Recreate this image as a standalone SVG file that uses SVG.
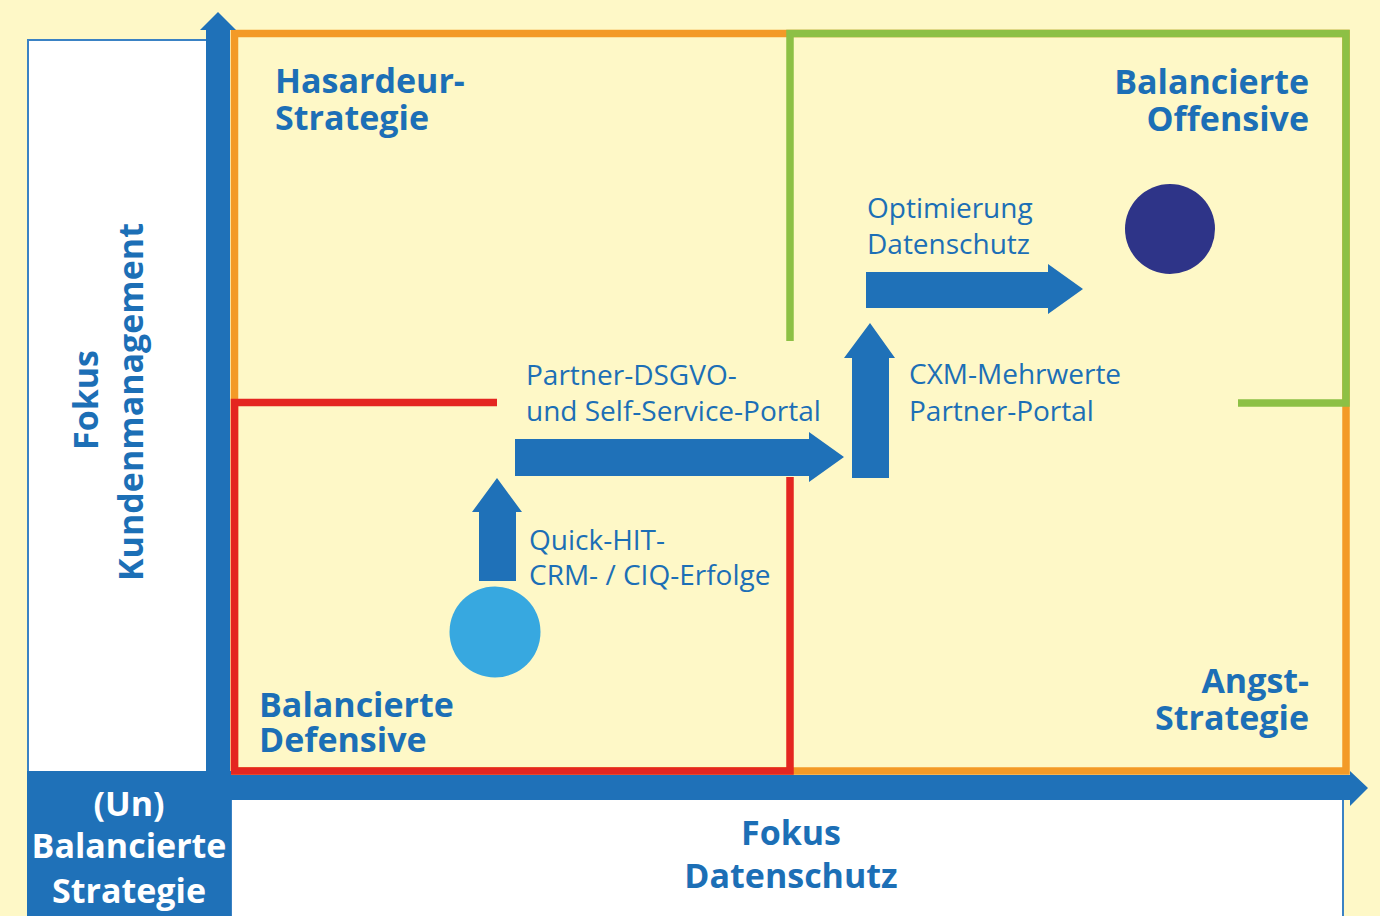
<svg xmlns="http://www.w3.org/2000/svg" width="1380" height="916" viewBox="0 0 1380 916">
  <style>
    .bg { fill: #FEF8C7; }
    .panel { fill: #FFFFFF; stroke: #3A82C4; stroke-width: 2; }
    .frame { fill: none; stroke-width: 7.5; stroke-linejoin: miter; stroke-linecap: butt; }
    .orange { stroke: #F39A27; }
    .green { stroke: #8DC045; }
    .red { stroke: #E42620; }
    .blue { fill: #1F71B8; }
    .head { font-family: "Open Sans", "Liberation Sans", sans-serif; font-weight: 700; font-size: 34px; fill: #1C6FB6; }
    .label { font-family: "Open Sans", "Liberation Sans", sans-serif; font-weight: 400; font-size: 28px; fill: #1C6FB6; }
    .white { fill: #FFFFFF; }
    .mid { text-anchor: middle; }
    .end { text-anchor: end; }
  </style>

  <rect class="bg" x="0" y="0" width="1380" height="916"/>

  <!-- axis label panels -->
  <g id="panel-y">
    <rect class="panel" x="28" y="40" width="180" height="740"/>
    <text class="head mid" transform="translate(98,400) rotate(-90)">Fokus</text>
    <text class="head mid" transform="translate(143,402) rotate(-90)">Kundenmanagement</text>
  </g>
  <g id="panel-x">
    <rect class="panel" x="231" y="798" width="1112" height="130"/>
    <text class="head mid" x="791" y="845">Fokus</text>
    <text class="head mid" x="791" y="888">Datenschutz</text>
  </g>

  <!-- quadrant frames -->
  <g id="quadrant-hasardeur">
    <rect class="frame orange" x="234.5" y="33.5" width="1111.5" height="737.5"/>
    <text class="head" x="275" y="93">Hasardeur-</text>
    <text class="head" x="275" y="130">Strategie</text>
  </g>
  <g id="quadrant-offensive">
    <polyline class="frame green" points="790,341 790,33.5 1346,33.5 1346,403 1238,403"/>
    <text class="head end" x="1309" y="94">Balancierte</text>
    <text class="head end" x="1309" y="131">Offensive</text>
  </g>
  <g id="quadrant-defensive">
    <polyline class="frame red" points="497,402.5 234.5,402.5 234.5,771 790,771 790,477"/>
    <text class="head" x="259" y="717">Balancierte</text>
    <text class="head" x="259" y="752">Defensive</text>
  </g>
  <g id="quadrant-angst">
    <text class="head end" x="1309" y="693">Angst-</text>
    <text class="head end" x="1309" y="730">Strategie</text>
  </g>

  <!-- axes -->
  <g id="axes">
    <polygon class="blue" points="206,800 206,30 200,30 218,12 236,30 230,30 230,800"/>
    <polygon class="blue" points="206,775 1350,775 1350,771 1368,788 1350,806 1350,800 206,800"/>
  </g>

  <g id="corner-unbalanced">
    <rect class="blue" x="27" y="771" width="204" height="150"/>
    <text class="head white mid" x="129" y="816">(Un)</text>
    <text class="head white mid" x="129" y="858">Balancierte</text>
    <text class="head white mid" x="129" y="903">Strategie</text>
  </g>

  <!-- development path -->
  <g id="connectors">
    <polygon class="blue" points="479,581 479,512 472,512 497,478 522,512 516,512 516,581"/>
    <polygon class="blue" points="515,439 809,439 809,432 844,457 809,482 809,476 515,476"/>
    <polygon class="blue" points="852,478 852,358 844,358 870,323 895,358 889,358 889,478"/>
    <polygon class="blue" points="866,272 1048,272 1048,264 1083,289 1048,314 1048,308 866,308"/>
  </g>

  <g id="step-quickhit">
    <text class="label" x="529" y="550">Quick-HIT-</text>
    <text class="label" x="529" y="585">CRM- / CIQ-Erfolge</text>
  </g>
  <g id="step-partner-dsgvo">
    <text class="label" x="526" y="385">Partner-DSGVO-</text>
    <text class="label" x="526" y="421">und Self-Service-Portal</text>
  </g>
  <g id="step-cxm">
    <text class="label" x="909" y="384">CXM-Mehrwerte</text>
    <text class="label" x="909" y="421">Partner-Portal</text>
  </g>
  <g id="step-optimierung">
    <text class="label" x="867" y="218">Optimierung</text>
    <text class="label" x="867" y="254">Datenschutz</text>
  </g>

  <!-- positions -->
  <g id="position-start">
    <circle cx="495" cy="632" r="45.5" fill="#37A8E0"/>
  </g>
  <g id="position-target">
    <circle cx="1170" cy="229" r="45" fill="#2E3488"/>
  </g>
</svg>
